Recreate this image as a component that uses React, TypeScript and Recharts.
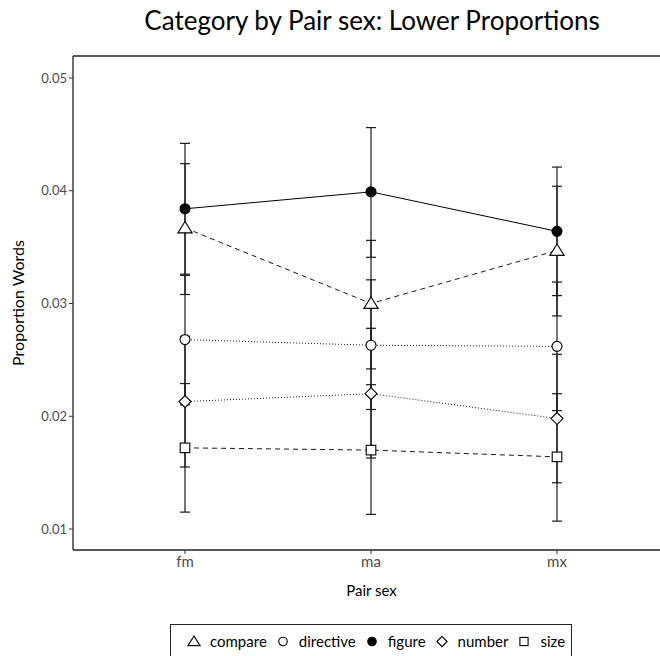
import React from "react";
import { LineChart, Line, XAxis, YAxis, ErrorBar } from "recharts";

const categories = ["fm", "ma", "mx"];
const yTicks = [0.01, 0.02, 0.03, 0.04, 0.05];
const yDomain = [0.00814, 0.05195];

const compare = [0.0367, 0.03, 0.0347];
const compareLow = [0.0308, 0.0242, 0.0289];
const compareHigh = [0.0424, 0.0356, 0.0404];

const directive = [0.0268, 0.0263, 0.0262];
const directiveLow = [0.021, 0.0206, 0.0205];
const directiveHigh = [0.0325, 0.0321, 0.0319];

const figure = [0.0384, 0.0399, 0.0364];
const figureLow = [0.0326, 0.0341, 0.0307];
const figureHigh = [0.0442, 0.0456, 0.0421];

const number = [0.0213, 0.022, 0.0198];
const numberLow = [0.0155, 0.0163, 0.0141];
const numberHigh = [0.0271, 0.0278, 0.0255];

const size = [0.0172, 0.017, 0.0164];
const sizeLow = [0.0115, 0.0113, 0.0107];
const sizeHigh = [0.0229, 0.0228, 0.022];

const seriesList = [
  { key: "compare", values: compare, low: compareLow, high: compareHigh },
  { key: "directive", values: directive, low: directiveLow, high: directiveHigh },
  { key: "figure", values: figure, low: figureLow, high: figureHigh },
  { key: "number", values: number, low: numberLow, high: numberHigh },
  { key: "size", values: size, low: sizeLow, high: sizeHigh },
];

const data = categories.map((cat, i) => {
  const row: Record<string, any> = { cat };
  seriesList.forEach((s) => {
    row[s.key] = s.values[i];
    row[s.key + "Err"] = [s.values[i] - s.low[i], s.high[i] - s.values[i]];
  });
  return row;
});

const FONT = "Lato, 'Open Sans', sans-serif";
const INK = "#1a1a1a";

type Shape = "triangle" | "circle" | "filled" | "diamond" | "square";

function Marker({ shape, cx, cy, scale = 1 }: { shape: Shape; cx: number; cy: number; scale?: number }) {
  const s = scale;
  const common = { stroke: "#000", strokeWidth: 1.1, fill: "#fff" };
  if (shape === "triangle") {
    const h = 6.5 * s;
    return (
      <polygon
        {...common}
        points={`${cx},${cy - h} ${cx - h * 1.1},${cy + h * 0.75} ${cx + h * 1.1},${cy + h * 0.75}`}
      />
    );
  }
  if (shape === "circle") return <circle {...common} cx={cx} cy={cy} r={5 * s} />;
  if (shape === "filled") return <circle {...common} fill="#000" cx={cx} cy={cy} r={5 * s} />;
  if (shape === "diamond") {
    const d = 6 * s;
    return <polygon {...common} points={`${cx},${cy - d} ${cx + d},${cy} ${cx},${cy + d} ${cx - d},${cy}`} />;
  }
  const q = 4.8 * s;
  return <rect {...common} x={cx - q} y={cy - q} width={q * 2} height={q * 2} />;
}

const styles: Record<string, { shape: Shape; dash?: string }> = {
  compare: { shape: "triangle", dash: "5 4" },
  directive: { shape: "circle", dash: "1 2" },
  figure: { shape: "filled" },
  number: { shape: "diamond", dash: "1 2" },
  size: { shape: "square", dash: "5 4" },
};

function dotFor(shape: Shape) {
  return (p: any) => <Marker key={`${shape}-${p.index}`} shape={shape} cx={p.cx} cy={p.cy} />;
}

function LegendIcon({ shape }: { shape: Shape }) {
  return (
    <svg width={14} height={14} style={{ display: "block" }}>
      <Marker shape={shape} cx={7} cy={7.5} scale={0.85} />
    </svg>
  );
}

export default function App() {
  return (
    <div style={{ position: "absolute", left: 0, top: 0, width: 660, height: 656, background: "#fff" }}>
      <div
        style={{
          position: "absolute",
          left: 172,
          width: 400,
          top: 4,
          display: "flex",
          justifyContent: "center",
          whiteSpace: "nowrap",
          fontFamily: FONT,
          fontSize: 26,
          color: "#000",
        }}
      >
        <span>Category by Pair sex: Lower Proportions</span>
      </div>
      <LineChart width={660} height={656} data={data} margin={{ top: 55, right: 0, bottom: 76, left: 0 }}>
        <XAxis
          dataKey="cat"
          padding={{ left: 112, right: 103 }}
          height={30}
          tick={{ fontSize: 15, fill: "#4d4d4d", fontFamily: FONT }}
          tickLine={{ stroke: "#333" }}
          tickSize={4}
          axisLine={{ stroke: "#222", strokeWidth: 1.3 }}
          label={{ value: "Pair sex", position: "insideBottom", offset: -16, dx: 5, fontSize: 15, fill: "#000", fontFamily: FONT }}
        />
        <XAxis
          xAxisId="top"
          orientation="top"
          dataKey="cat"
          padding={{ left: 112, right: 103 }}
          height={1}
          tick={false}
          tickLine={false}
          axisLine={{ stroke: "#222", strokeWidth: 1.3 }}
        />
        <YAxis
          width={73}
          domain={yDomain}
          ticks={yTicks}
          tickFormatter={(v: number) => v.toFixed(2)}
          tick={{ fontSize: 13, fill: "#4d4d4d", fontFamily: FONT }}
          tickLine={{ stroke: "#333" }}
          tickSize={4}
          axisLine={{ stroke: "#222", strokeWidth: 1.3 }}
          label={{
            value: "Proportion Words",
            angle: -90,
            position: "insideLeft",
            offset: 18,
            style: { textAnchor: "middle" },
            fontSize: 16,
            fill: "#000",
            fontFamily: FONT,
          }}
        />
        {seriesList.map((s) => (
          <Line
            key={s.key + "-err"}
            dataKey={s.key}
            stroke="none"
            dot={false}
            activeDot={false}
            legendType="none"
            isAnimationActive={false}
          >
            <ErrorBar dataKey={s.key + "Err"} direction="y" width={5} stroke={INK} strokeWidth={1.2} isAnimationActive={false} />
          </Line>
        ))}
        {seriesList.map((s) => (
          <Line
            key={s.key}
            dataKey={s.key}
            stroke="#000"
            strokeWidth={s.key === "figure" ? 1 : 0.9}
            strokeDasharray={styles[s.key].dash}
            dot={dotFor(styles[s.key].shape)}
            activeDot={false}
            isAnimationActive={false}
          />
        ))}
      </LineChart>
      <div
        style={{
          position: "absolute",
          left: 170,
          top: 624,
          width: 402,
          height: 32,
          borderTop: "1.3px solid #222",
          borderLeft: "1.3px solid #222",
          borderRight: "1.3px solid #222",
          boxSizing: "border-box",
          display: "flex",
          alignItems: "flex-start",
          paddingTop: 7,
          paddingLeft: 16,
          fontFamily: FONT,
          fontSize: 15,
          color: "#000",
        }}
      >
        {seriesList.map((s) => (
          <div key={s.key} style={{ display: "flex", alignItems: "center", marginRight: 9 }}>
            <LegendIcon shape={styles[s.key].shape} />
            <span style={{ marginLeft: 9 }}>{s.key}</span>
          </div>
        ))}
      </div>
    </div>
  );
}
